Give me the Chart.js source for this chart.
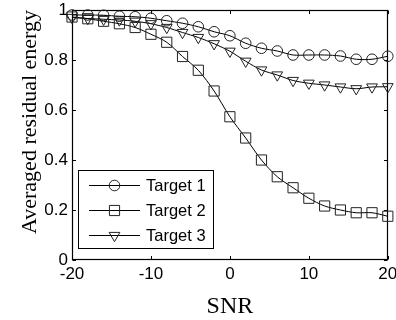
<!DOCTYPE html>
<html>
<head>
<meta charset="utf-8">
<script src="https://cdn.jsdelivr.net/npm/chart.js@4.4.1/dist/chart.umd.min.js"></script>
<style>
html,body{margin:0;padding:0;background:#fff;}
#wrap{width:396px;height:320px;position:relative;}
</style>
</head>
<body>
<div id="wrap"><canvas id="c" width="396" height="320"></canvas></div>
<script>
const snr = [-20,-18,-16,-14,-12,-10,-8,-6,-4,-2,0,2,4,6,8,10,12,14,16,18,20];
const target1 = [0.980,0.980,0.979,0.975,0.973,0.967,0.957,0.947,0.933,0.913,0.897,0.867,0.847,0.836,0.820,0.820,0.820,0.816,0.803,0.803,0.815];
const target2 = [0.972,0.965,0.955,0.945,0.930,0.903,0.871,0.814,0.759,0.676,0.573,0.488,0.400,0.333,0.289,0.247,0.216,0.200,0.189,0.189,0.175];
const target3 = [0.970,0.966,0.963,0.960,0.955,0.945,0.930,0.910,0.890,0.865,0.835,0.795,0.760,0.740,0.718,0.707,0.700,0.692,0.685,0.692,0.693];
const seriesNames = ['Target 1','Target 2','Target 3'];
const xTicks = [-20,-10,0,10,20];
const yTicks = [0,0.2,0.4,0.6,0.8,1];
const xTitle = 'SNR';
const yTitle = 'Averaged residual energy';

const tickFont = {family:'"Liberation Sans", Arial, Helvetica, sans-serif', size:17};
const serif = '"Liberation Serif", "Times New Roman", serif';

function pts(arr){ return snr.map((x,i)=>({x:x,y:arr[i]})); }

const styles = [
  {pointStyle:'circle', radius:5.3, rotation:0},
  {pointStyle:'rect', radius:7.2, rotation:0},
  {pointStyle:'triangle', radius:6.2, rotation:180}
];

const datasets = [target1,target2,target3].map((arr,i)=>({
  label: seriesNames[i],
  data: pts(arr),
  borderColor:'#000',
  borderWidth:1,
  pointBorderColor:'#222',
  pointBackgroundColor:'rgba(0,0,0,0)',
  pointBorderWidth:1,
  pointStyle: styles[i].pointStyle,
  pointRadius: styles[i].radius,
  pointRotation: styles[i].rotation,
  tension:0.3,
  clip:false,
  fill:false
}));

function drawMarker(ctx, style, x, y){
  const r = style.radius;
  ctx.beginPath();
  if(style.pointStyle==='circle'){
    ctx.arc(x,y,r,0,Math.PI*2);
  } else if(style.pointStyle==='rect'){
    const s = Math.SQRT1_2*r;
    ctx.rect(x-s,y-s,2*s,2*s);
  } else {
    let rad = style.rotation*Math.PI/180;
    ctx.moveTo(x+Math.sin(rad)*r, y-Math.cos(rad)*r);
    rad += 2*Math.PI/3;
    ctx.lineTo(x+Math.sin(rad)*r, y-Math.cos(rad)*r);
    rad += 2*Math.PI/3;
    ctx.lineTo(x+Math.sin(rad)*r, y-Math.cos(rad)*r);
    ctx.closePath();
  }
  ctx.stroke();
}

const framePlugin = {
  id:'frame',
  beforeDatasetsDraw(chart){
    const ctx = chart.ctx, a = chart.chartArea;
    const xs = chart.scales.x, ys = chart.scales.y;
    ctx.save();
    ctx.strokeStyle='#000';
    ctx.lineWidth=1;
    const L=Math.round(a.left)+0.5, R=Math.round(a.right)-0.5, T=Math.round(a.top)+0.5, B=Math.round(a.bottom)-0.5;
    ctx.beginPath();
    const tl = 3.5;
    xTicks.forEach(v=>{
      const px = Math.round(xs.getPixelForValue(v))+0.5;
      ctx.moveTo(px,B); ctx.lineTo(px,B-tl);
      ctx.moveTo(px,T); ctx.lineTo(px,T+tl);
    });
    yTicks.forEach(v=>{
      const py = Math.round(ys.getPixelForValue(v))+0.5;
      ctx.moveTo(L,py); ctx.lineTo(L+tl,py);
      ctx.moveTo(R,py); ctx.lineTo(R-tl,py);
    });
    ctx.stroke();
    ctx.lineWidth=1.2;
    ctx.strokeRect(L,T,R-L,B-T);
    ctx.restore();
  },
  afterDraw(chart){
    const ctx = chart.ctx, a = chart.chartArea;
    ctx.save();
    ctx.fillStyle='#000';
    ctx.font = '24px ' + serif;
    ctx.textAlign='center';
    ctx.textBaseline='alphabetic';
    ctx.fillText(xTitle, (a.left+a.right)/2, 313);
    ctx.save();
    ctx.translate(36, 122);
    ctx.rotate(-Math.PI/2);
    ctx.font = '22px ' + serif;
    ctx.fillText(yTitle, 0, 0);
    ctx.restore();
    const bx=78.5, by=170.5, bw=135, bh=78;
    ctx.fillStyle='#fff';
    ctx.fillRect(bx,by,bw,bh);
    ctx.strokeStyle='#000';
    ctx.lineWidth=1;
    ctx.strokeRect(bx,by,bw,bh);
    const rows=[185,210,235];
    ctx.font = '16.5px "Liberation Sans", Arial, Helvetica, sans-serif';
    ctx.textAlign='left';
    ctx.textBaseline='middle';
    seriesNames.forEach((name,i)=>{
      const y = rows[i]+0.5;
      ctx.strokeStyle='#000';
      ctx.beginPath(); ctx.moveTo(89,y); ctx.lineTo(140,y); ctx.stroke();
      ctx.strokeStyle='#222';
      drawMarker(ctx, styles[i], 114.5, y);
      ctx.fillStyle='#000';
      ctx.fillText(name, 146, rows[i]+1);
    });
    ctx.restore();
  }
};

new Chart(document.getElementById('c'), {
  type:'line',
  data:{datasets:datasets},
  plugins:[framePlugin],
  options:{
    responsive:false,
    animation:false,
    devicePixelRatio:1,
    layout:{padding:{top:10,right:4,left:0,bottom:0}},
    plugins:{legend:{display:false}, tooltip:{enabled:false}},
    scales:{
      x:{
        type:'linear', min:-20, max:20,
        afterFit(s){ s.height = 60; s.paddingLeft = 0; s.paddingRight = 0; },
        afterBuildTicks(s){ s.ticks = xTicks.map(v=>({value:v})); },
        grid:{display:false, drawTicks:false},
        border:{display:false},
        ticks:{color:'#000', font:tickFont, padding:4, maxRotation:0, autoSkip:false}
      },
      y:{
        type:'linear', min:0, max:1,
        afterFit(s){ s.width = 72; s.paddingTop = 0; s.paddingBottom = 0; },
        afterBuildTicks(s){ s.ticks = yTicks.map(v=>({value:v})); },
        grid:{display:false, drawTicks:false},
        border:{display:false},
        ticks:{color:'#000', font:tickFont, padding:4, autoSkip:false,
          callback:(v)=>String(Math.round(v*10)/10)}
      }
    }
  }
});
</script>
</body>
</html>
